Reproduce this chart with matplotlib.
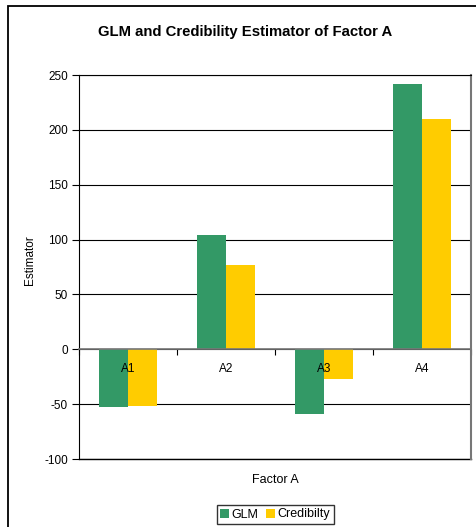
import numpy as np
import matplotlib.pyplot as plt
from matplotlib.patches import Rectangle

plt.rcParams['font.family'] = ['Liberation Sans', 'DejaVu Sans']
plt.rcParams['axes.unicode_minus'] = False

categories = ['A1', 'A2', 'A3', 'A4']
glm = [-53, 104, -59, 242]
credibility = [-52, 77, -27, 210]
yticks = [-100, -50, 0, 50, 100, 150, 200, 250]

green = '#339966'
yellow = '#FFCC00'

fig = plt.figure(figsize=(4.76, 5.27), dpi=100)
ax = fig.add_axes([79/476, 68/527, 392/476, 384/527])

x = np.arange(len(categories))
w = 0.296
ax.bar(x - w/2, glm, w, color=green, label='GLM', zorder=1)
ax.bar(x + w/2, credibility, w, color=yellow, label='Credibilty', zorder=1)

ax.set_ylim(-100, 250)
ax.set_yticks(yticks)
ax.set_xlim(-0.5, len(categories) - 0.5)
# gridlines behind the bars, axis labels in front
ax.hlines(yticks, -0.5, len(categories) - 0.5, color='black', linewidth=0.8, zorder=0)
ax.tick_params(axis='y', direction='out', length=5, width=0.8, labelsize=8.5, pad=3)

# category axis sits on the zero line
ax.spines['bottom'].set_position(('data', 0))
ax.spines['bottom'].set_color('#777777')
ax.spines['bottom'].set_linewidth(1.2)
ax.set_xticks(x)
ax.set_xticklabels(categories)
ax.set_xticks(np.arange(-0.5, len(categories)), minor=True)
ax.tick_params(axis='x', which='major', length=0, labelsize=8.5, pad=10)
ax.tick_params(axis='x', which='minor', direction='out', length=4, width=0.8, color='black')
ax.plot([0, 1], [0, 0], transform=ax.transAxes, color='black', linewidth=1, clip_on=False)
ax.spines['right'].set_color('#777777')
ax.spines['right'].set_linewidth(1.5)

fig.text(245/476, 1 - 32/527, 'GLM and Credibility Estimator of Factor A',
         ha='center', va='center', fontsize=10.7, fontweight='bold')
fig.text(275/476, 1 - 480/527, 'Factor A', ha='center', va='center', fontsize=9)
fig.text(30/476, 1 - 260/527, 'Estimator', ha='center', va='center',
         rotation=90, fontsize=8.5)

fig.legend(loc='center', bbox_to_anchor=(275/476, 1 - 514.5/527), ncol=2,
           fontsize=9, frameon=True, fancybox=False, edgecolor='black',
           handlelength=0.7, handleheight=0.7, handletextpad=0.2,
           columnspacing=0.6, borderpad=0.3, borderaxespad=0)

# outer chart frame
fig.add_artist(Rectangle((7.5/476, -0.05), 1, 1.05 - 5.5/527, transform=fig.transFigure,
                         fill=False, edgecolor='black', linewidth=1.3))

fig.savefig('out.png', dpi=100)
